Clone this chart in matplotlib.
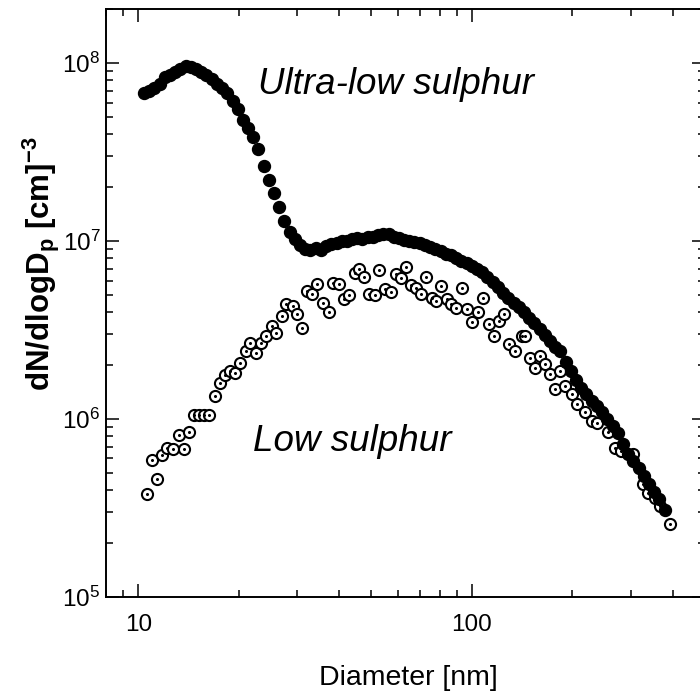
import numpy as np
import matplotlib
matplotlib.use('Agg')
import matplotlib.pyplot as plt
from matplotlib import ticker

plt.rcParams['font.family'] = ['Liberation Sans', 'DejaVu Sans']
plt.rcParams['mathtext.fontset'] = 'custom'
plt.rcParams['mathtext.rm'] = 'Liberation Sans'
plt.rcParams['mathtext.bf'] = 'Liberation Sans:bold'
plt.rcParams['mathtext.it'] = 'Liberation Sans:italic'

# ultra-low sulphur fuel (filled)
d_ulsf = [10.4, 10.78, 11.17, 11.58, 12.0, 12.44, 12.9, 13.37, 13.86, 14.37,
          14.9, 15.44, 16.0, 16.6, 17.2, 17.8, 18.5, 19.2, 19.9, 20.6,
          21.3, 22.1, 22.9, 23.8, 24.6, 25.5, 26.5, 27.4, 28.4, 29.5,
          30.5, 31.7, 32.8, 34.0, 35.3, 36.6, 37.9, 39.3, 40.7, 42.2,
          43.8, 45.4, 47.0, 48.7, 50.5, 52.4, 54.3, 56.3, 58.3, 60.5,
          62.7, 65.0, 67.3, 69.8, 72.4, 75.0, 77.8, 80.6, 83.6, 86.6,
          89.8, 93.1, 96.5, 100.0, 103.7, 107.5, 111.4, 115.5, 119.7, 124.1,
          128.6, 133.4, 138.2, 143.3, 148.5, 154.0, 159.6, 165.4, 171.5, 177.8,
          184.3, 191.0, 198.0, 205.3, 212.8, 220.6, 228.7, 237.1, 245.7, 254.7,
          264.1, 273.8, 283.8, 294.2, 305.0, 316.2, 327.8, 339.8, 352.2, 365.1,
          378.5]
n_ulsf = [6.75e7, 6.95e7, 7.2e7, 7.6e7, 8.3e7, 8.6e7, 8.9e7, 9.3e7, 9.6e7, 9.5e7,
          9.2e7, 8.9e7, 8.6e7, 8.1e7, 7.6e7, 7.2e7, 6.8e7, 6.1e7, 5.5e7, 4.8e7,
          4.3e7, 3.85e7, 3.3e7, 2.65e7, 2.2e7, 1.85e7, 1.55e7, 1.3e7, 1.13e7, 1.02e7,
          9.5e6, 9.0e6, 8.9e6, 9.1e6, 8.9e6, 9.4e6, 9.6e6, 9.8e6, 1.0e7, 1.0e7,
          1.02e7, 1.04e7, 1.03e7, 1.05e7, 1.06e7, 1.08e7, 1.1e7, 1.09e7, 1.06e7, 1.04e7,
          1.01e7, 1.0e7, 9.9e6, 9.7e6, 9.5e6, 9.3e6, 9.0e6, 8.8e6, 8.5e6, 8.3e6,
          8.0e6, 7.7e6, 7.5e6, 7.2e6, 7.0e6, 6.7e6, 6.3e6, 5.9e6, 5.5e6, 5.1e6,
          4.8e6, 4.5e6, 4.25e6, 4.0e6, 3.7e6, 3.45e6, 3.2e6, 2.95e6, 2.75e6, 2.55e6,
          2.4e6, 2.1e6, 1.85e6, 1.65e6, 1.5e6, 1.38e6, 1.26e6, 1.18e6, 1.09e6, 1.0e6,
          9.1e5, 8.3e5, 7.2e5, 6.4e5, 5.8e5, 5.3e5, 4.8e5, 4.3e5, 3.9e5, 3.55e5,
          3.1e5]

# low sulphur fuel (open)
d_lsf = [10.6, 11.0, 11.4, 11.8, 12.2, 12.7, 13.2, 13.7, 14.2, 14.7,
         15.2, 15.7, 16.3, 17.0, 17.6, 18.2, 18.8, 19.5, 20.2, 21.0,
         21.6, 22.5, 23.4, 24.2, 25.1, 25.9, 27.0, 27.8, 29.0, 30.0,
         31.0, 32.1, 33.2, 34.4, 35.7, 37.2, 38.3, 39.9, 41.5, 42.9,
         44.5, 46.0, 47.6, 49.3, 51.3, 52.8, 55.0, 57.2, 59.2, 61.3,
         63.4, 65.6, 67.9, 70.3, 73.0, 75.8, 77.9, 81.1, 84.4, 86.9,
         89.7, 93.6, 96.8, 100.2, 104.5, 107.9, 112.4, 116.4, 120.5, 124.7,
         129.0, 134.3, 141.3, 144.5, 149.7, 155.0, 160.3, 166.0, 171.8, 177.8,
         184.0, 190.4, 199.3, 206.0, 218.0, 228.6, 236.7, 256.3, 268.5, 281.0,
         304.6, 326.0, 337.6, 353.5, 365.7, 392.0]
n_lsf = [3.78e5, 5.86e5, 4.58e5, 6.3e5, 6.85e5, 6.8e5, 8.1e5, 6.8e5, 8.4e5, 1.06e6,
         1.06e6, 1.06e6, 1.06e6, 1.35e6, 1.6e6, 1.77e6, 1.86e6, 1.82e6, 2.07e6, 2.41e6,
         2.68e6, 2.35e6, 2.68e6, 2.93e6, 3.33e6, 3.05e6, 3.79e6, 4.41e6, 4.31e6, 3.88e6,
         3.26e6, 5.24e6, 5.06e6, 5.7e6, 4.5e6, 4.0e6, 5.83e6, 5.7e6, 4.7e6, 5.0e6,
         6.64e6, 6.93e6, 6.28e6, 5.06e6, 5.0e6, 6.84e6, 5.35e6, 5.19e6, 6.5e6, 6.17e6,
         7.14e6, 5.66e6, 5.47e6, 5.06e6, 6.28e6, 4.8e6, 4.6e6, 5.59e6, 4.7e6, 4.4e6,
         4.2e6, 5.42e6, 4.13e6, 3.52e6, 4.0e6, 4.8e6, 3.43e6, 2.93e6, 3.55e6, 3.88e6,
         2.63e6, 2.41e6, 2.93e6, 2.93e6, 2.21e6, 1.94e6, 2.26e6, 2.03e6, 1.78e6, 1.47e6,
         1.86e6, 1.53e6, 1.38e6, 1.21e6, 1.1e6, 9.75e5, 9.5e5, 8.4e5, 6.9e5, 6.6e5,
         6.33e5, 4.3e5, 3.86e5, 3.6e5, 3.25e5, 2.56e5]

fig = plt.figure(figsize=(7, 6.97), dpi=100)
ax = fig.add_axes([0.1514, 0.1435, 0.8557, 0.8429])

ax.plot(d_lsf, n_lsf, 'o', ms=8, mfc='white', mec='black', mew=1.5, ls='none')
ax.plot(d_lsf, n_lsf, 'o', ms=1.2, color='black', ls='none')
ax.plot(d_ulsf, n_ulsf, 'o', ms=8.6, color='black', ls='none')

ax.set_xscale('log')
ax.set_yscale('log')
ax.set_xlim(8.0, 500)
ax.set_ylim(1e5, 2e8)
ax.xaxis.set_major_formatter(ticker.FormatStrFormatter('%g'))
ax.xaxis.set_minor_formatter(ticker.NullFormatter())

for s in ax.spines.values():
    s.set_linewidth(1.4)

ax.tick_params(which='both', direction='in', top=True, right=True, width=1.1)
ax.tick_params(which='major', length=9.5)
ax.tick_params(which='minor', length=5)
ax.tick_params(axis='x', which='major', labelsize=17.5, pad=12)
ax.tick_params(axis='y', which='major', labelsize=17.5, pad=4)

ax.text(22.8, 6.7e7, 'Ultra-low sulphur', fontsize=26.5, style='italic',
        ha='left', va='baseline')
ax.text(22.0, 6.6e5, 'Low sulphur', fontsize=26.5, style='italic',
        ha='left', va='baseline')

fig.text(41 / 700, 1 - 264 / 697, r'dN/dlogD$_\mathbf{p}$ [cm]$^\mathbf{-3}$',
         rotation=90, fontsize=22.5, fontweight='bold', ha='center', va='center')
fig.text(408 / 700, 1 - 678 / 697, 'Diameter [nm]', fontsize=20.5,
         ha='center', va='center')

plt.savefig('out.png', dpi=100)
